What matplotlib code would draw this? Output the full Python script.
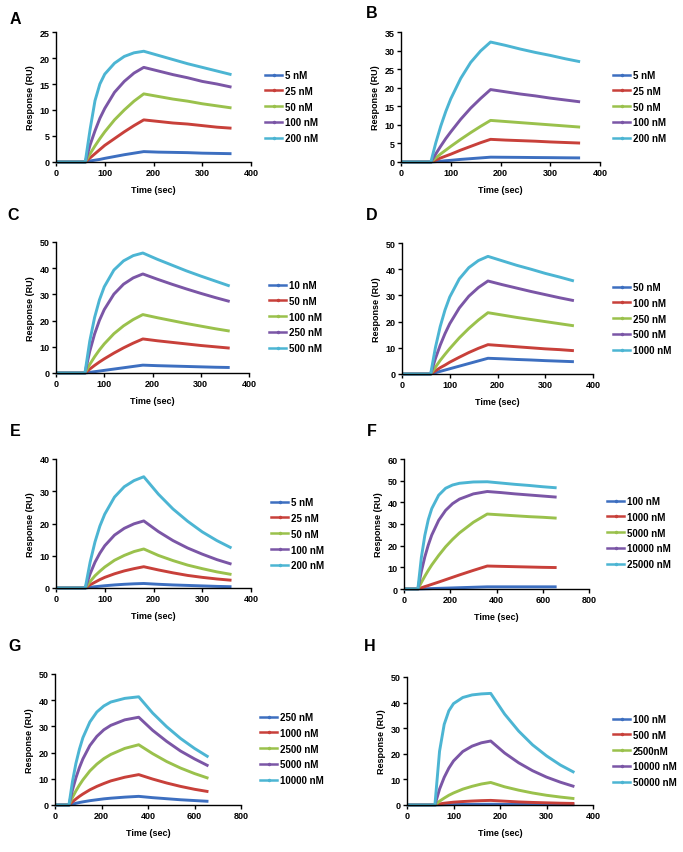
import matplotlib
matplotlib.use("Agg")
import matplotlib.pyplot as plt
from matplotlib.lines import Line2D

plt.rcParams["font.family"] = ["Liberation Sans", "DejaVu Sans"]
plt.rcParams["font.weight"] = "bold"
plt.rcParams["axes.labelweight"] = "bold"

W, H = 683, 853

# time axes (sec)
T_SHORT = [0, 60, 70, 80, 90, 100, 120, 140, 160, 180, 210, 240, 270, 300, 330, 360]
T_LONG = [0, 60, 75, 90, 105, 120, 150, 180, 210, 240, 300, 360, 420, 480, 540, 600, 660]

# response (RU), one list per concentration, lowest first
A_LABELS = ["5 nM", "25 nM", "50 nM", "100 nM", "200 nM"]
A_RU = [
    [0, 0, 0.2, 0.35, 0.5, 0.7, 1.05, 1.4, 1.7, 2.0, 1.9, 1.85, 1.8, 1.7, 1.65, 1.6],
    [0, 0, 0.8, 1.6, 2.4, 3.2, 4.5, 5.8, 7.0, 8.1, 7.8, 7.5, 7.3, 7.0, 6.7, 6.5],
    [0, 0, 1.6, 3.1, 4.5, 5.8, 8.1, 10.0, 11.7, 13.1, 12.6, 12.1, 11.7, 11.2, 10.8, 10.4],
    [0, 0, 3.3, 6.0, 8.4, 10.3, 13.4, 15.5, 17.1, 18.2, 17.5, 16.8, 16.2, 15.5, 15.0, 14.4],
    [0, 0, 6.3, 11.8, 15.0, 16.9, 19.0, 20.3, 21.0, 21.3, 20.5, 19.7, 18.9, 18.2, 17.5, 16.8],
]

B_LABELS = ["5 nM", "25 nM", "50 nM", "100 nM", "200 nM"]
B_RU = [
    [0, 0, 0.1, 0.2, 0.35, 0.45, 0.7, 0.9, 1.1, 1.3, 1.27, 1.24, 1.2, 1.17, 1.13, 1.1],
    [0, 0, 0.55, 1.1, 1.6, 2.1, 3.2, 4.2, 5.2, 6.1, 5.9, 5.75, 5.6, 5.4, 5.25, 5.1],
    [0, 0, 1.1, 2.2, 3.2, 4.2, 6.1, 7.9, 9.6, 11.2, 10.9, 10.6, 10.3, 10.0, 9.7, 9.4],
    [0, 0, 2.2, 4.3, 6.3, 8.1, 11.5, 14.5, 17.1, 19.5, 18.9, 18.3, 17.8, 17.2, 16.7, 16.2],
    [0, 0, 5.2, 9.7, 13.6, 17.0, 22.5, 26.8, 29.9, 32.3, 31.4, 30.4, 29.5, 28.7, 27.8, 27.0],
]

C_LABELS = ["10 nM", "50 nM", "100 nM", "250 nM", "500 nM"]
C_RU = [
    [0, 0, 0.25, 0.5, 0.75, 1.0, 1.5, 2.0, 2.5, 3.0, 2.8, 2.65, 2.5, 2.35, 2.2, 2.1],
    [0, 0, 1.5, 2.9, 4.2, 5.4, 7.6, 9.6, 11.4, 13.0, 12.3, 11.7, 11.1, 10.5, 10.0, 9.5],
    [0, 0, 3.3, 6.2, 8.8, 11.1, 15.0, 18.0, 20.4, 22.3, 21.1, 20.0, 18.9, 17.9, 16.9, 16.0],
    [0, 0, 8.3, 14.9, 20.1, 24.2, 30.1, 33.9, 36.3, 37.8, 35.8, 33.9, 32.1, 30.4, 28.8, 27.3],
    [0, 0, 12.2, 21.2, 27.9, 32.9, 39.3, 42.8, 44.8, 45.8, 43.4, 41.2, 39.0, 37.0, 35.1, 33.2],
]

D_LABELS = ["50 nM", "100 nM", "250 nM", "500 nM", "1000 nM"]
D_RU = [
    [0, 0, 0.5, 1.0, 1.5, 2.0, 3.0, 4.0, 5.0, 6.0, 5.8, 5.55, 5.35, 5.1, 4.9, 4.7],
    [0, 0, 1.2, 2.4, 3.4, 4.5, 6.4, 8.2, 9.8, 11.2, 10.8, 10.4, 10.0, 9.6, 9.3, 8.9],
    [0, 0, 2.6, 5.2, 7.5, 9.7, 13.8, 17.4, 20.6, 23.4, 22.5, 21.6, 20.8, 20.0, 19.2, 18.4],
    [0, 0, 5.9, 11.0, 15.4, 19.2, 25.2, 29.7, 33.0, 35.5, 34.1, 32.8, 31.5, 30.3, 29.1, 28.0],
    [0, 0, 10.1, 18.1, 24.4, 29.4, 36.3, 40.6, 43.3, 44.9, 43.2, 41.5, 40.0, 38.4, 37.0, 35.5],
]

E_LABELS = ["5 nM", "25 nM", "50 nM", "100 nM", "200 nM"]
E_RU = [
    [0, 0, 0.2, 0.4, 0.55, 0.7, 0.95, 1.15, 1.3, 1.4, 1.15, 0.95, 0.8, 0.65, 0.5, 0.4],
    [0, 0, 1.0, 1.8, 2.6, 3.3, 4.4, 5.3, 6.0, 6.6, 5.6, 4.7, 3.9, 3.3, 2.8, 2.4],
    [0, 0, 2.0, 3.8, 5.2, 6.5, 8.6, 10.1, 11.3, 12.1, 10.1, 8.5, 7.1, 6.0, 5.0, 4.2],
    [0, 0, 4.4, 8.0, 10.8, 13.1, 16.4, 18.5, 19.9, 20.8, 17.5, 14.7, 12.4, 10.5, 8.8, 7.4],
    [0, 0, 8.0, 14.3, 19.2, 22.9, 28.2, 31.4, 33.3, 34.5, 29.1, 24.5, 20.7, 17.4, 14.7, 12.4],
]

F_LABELS = ["100 nM", "1000 nM", "5000 nM", "10000 nM", "25000 nM"]
F_RU = [
    [0, 0, 0.05, 0.1, 0.15, 0.2, 0.3, 0.4, 0.5, 0.6, 0.8, 1.0, 1.0, 1.0, 1.0, 1.0, 1.0],
    [0, 0, 0.55, 1.1, 1.6, 2.15, 3.2, 4.3, 5.4, 6.5, 8.6, 10.6, 10.45, 10.3, 10.15, 10.0, 9.9],
    [0, 0, 3.0, 5.9, 8.6, 11.1, 15.5, 19.5, 22.9, 25.9, 30.8, 34.6, 34.2, 33.8, 33.4, 33.1, 32.7],
    [0, 0, 8.1, 14.8, 20.3, 24.9, 31.7, 36.3, 39.4, 41.5, 43.9, 45.0, 44.5, 43.9, 43.4, 42.9, 42.4],
    [0, 0, 14.5, 24.7, 32.0, 37.1, 43.3, 46.5, 48.0, 48.8, 49.4, 49.5, 48.9, 48.3, 47.8, 47.2, 46.7],
]

G_LABELS = ["250 nM", "1000 nM", "2500 nM", "5000 nM", "10000 nM"]
G_RU = [
    [0, 0, 0.3, 0.65, 0.95, 1.2, 1.65, 2.0, 2.35, 2.6, 3.0, 3.3, 2.8, 2.4, 2.0, 1.7, 1.4],
    [0, 0, 1.2, 2.3, 3.3, 4.2, 5.8, 7.1, 8.2, 9.2, 10.6, 11.6, 9.9, 8.4, 7.1, 6.0, 5.1],
    [0, 0, 2.9, 5.4, 7.6, 9.6, 13.0, 15.6, 17.7, 19.3, 21.6, 23.0, 19.6, 16.6, 14.1, 12.0, 10.2],
    [0, 0, 5.7, 10.4, 14.3, 17.6, 22.7, 26.2, 28.7, 30.4, 32.5, 33.5, 28.5, 24.3, 20.6, 17.6, 14.9],
    [0, 0, 8.9, 15.9, 21.3, 25.7, 31.7, 35.5, 37.8, 39.3, 40.7, 41.3, 35.1, 29.9, 25.4, 21.6, 18.3],
]

H_LABELS = ["100 nM", "500 nM", "2500nM", "10000 nM", "50000 nM"]
H_RU = [
    [0, 0, 0.05, 0.1, 0.14, 0.17, 0.22, 0.26, 0.28, 0.3, 0.25, 0.22, 0.18, 0.15, 0.12, 0.1],
    [0, 0, 0.4, 0.7, 0.9, 1.1, 1.35, 1.55, 1.7, 1.8, 1.5, 1.2, 1.0, 0.85, 0.7, 0.6],
    [0, 0, 1.5, 2.7, 3.8, 4.7, 6.2, 7.3, 8.2, 8.8, 7.1, 5.8, 4.7, 3.8, 3.1, 2.5],
    [0, 0, 6.2, 10.8, 14.4, 17.2, 20.9, 23.0, 24.3, 25.0, 20.3, 16.5, 13.4, 10.9, 8.9, 7.2],
    [0, 0, 21.0, 31.5, 36.8, 39.6, 42.0, 43.0, 43.4, 43.6, 35.5, 28.9, 23.5, 19.2, 15.6, 12.7],
]

COLORS = ["#3d6fc0", "#c8403a", "#9ac14c", "#7b56a6", "#4cb5d3"]


def draw_panel(fig, letter, box, letter_xy, legend_xy, t, series, labels, xmax, xstep, ymax, ystep):
    left, top, right, bottom = box
    ax = fig.add_axes([left / W, 1 - bottom / H, (right - left) / W, (bottom - top) / H])
    for ru, col in zip(series, COLORS):
        ax.plot(t, ru, color=col, lw=2.1, clip_on=False, solid_capstyle="butt")
    ax.set_xlim(0, xmax)
    ax.set_ylim(0, ymax)
    ax.set_xticks(range(0, xmax + 1, xstep))
    ax.set_yticks(range(0, ymax + 1, ystep))
    for s in ["top", "right"]:
        ax.spines[s].set_visible(False)
    for s in ["left", "bottom"]:
        ax.spines[s].set_linewidth(1.0)
    ax.tick_params(direction="out", length=3, width=1.0, labelsize=6.5, pad=1.5)
    ax.set_xlabel("Time (sec)", fontsize=6.5, labelpad=5.5)
    ax.set_ylabel("Response (RU)", fontsize=6.5, labelpad=3)
    fig.text(letter_xy[0] / W, 1 - letter_xy[1] / H, letter, fontsize=11.5, fontweight="bold",
             ha="center", va="center")
    handles = [Line2D([], [], color=c, lw=1.8, marker=".", markersize=3) for c in COLORS]
    ax.legend(handles, labels, loc="upper left", frameon=False, fontsize=7,
              bbox_to_anchor=(legend_xy[0] / W, 1 - legend_xy[1] / H), bbox_transform=fig.transFigure,
              borderaxespad=0, borderpad=0, handlelength=1.75, handletextpad=0.3, labelspacing=0.6)
    return ax


def main():
    fig = plt.figure(figsize=(W / 100, H / 100), dpi=100)
    draw_panel(fig, "A", (56, 33, 251, 163), (15, 19), (265, 71), T_SHORT, A_RU, A_LABELS, 400, 100, 25, 5)
    draw_panel(fig, "B", (401, 33, 600, 163), (372, 13), (613, 71), T_SHORT, B_RU, B_LABELS, 400, 100, 35, 5)
    draw_panel(fig, "C", (56, 243, 249, 374), (13, 216), (269, 281), T_SHORT, C_RU, C_LABELS, 400, 100, 50, 10)
    draw_panel(fig, "D", (402, 244, 593, 375), (372, 216), (613, 283), T_SHORT, D_RU, D_LABELS, 400, 100, 50, 10)
    draw_panel(fig, "E", (56, 460, 251, 589), (15, 432), (271, 498), T_SHORT, E_RU, E_LABELS, 400, 100, 40, 10)
    draw_panel(fig, "F", (404, 460, 589, 590), (372, 432), (607, 497), T_LONG, F_RU, F_LABELS, 800, 200, 60, 10)
    draw_panel(fig, "G", (55, 675, 241, 806), (15, 647), (260, 713), T_LONG, G_RU, G_LABELS, 800, 200, 50, 10)
    draw_panel(fig, "H", (407, 678, 593, 806), (370, 647), (613, 715), T_SHORT, H_RU, H_LABELS, 400, 100, 50, 10)
    fig.savefig("out.png", dpi=100)


if __name__ == "__main__":
    main()
